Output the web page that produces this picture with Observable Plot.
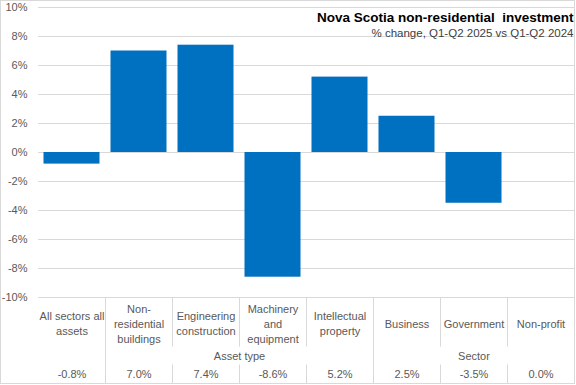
<!DOCTYPE html>
<html><head><meta charset="utf-8">
<script src="https://cdn.jsdelivr.net/npm/d3@7"></script>
<script src="https://cdn.jsdelivr.net/npm/@observablehq/plot@0.6"></script>
<style>body{margin:0;background:#fff} svg{display:block}</style>
</head><body><div id="chart"></div>
<script>
const categories = ["All sectors all\nassets","Non-\nresidential\nbuildings","Engineering\nconstruction","Machinery\nand\nequipment","Intellectual\nproperty","Business","Government","Non-profit"];
const values = [-0.8, 7.0, 7.4, -8.6, 5.2, 2.5, -3.5, 0.0];
const groupNames = ["Asset type","Sector"];
const groupStart = [1,5];
const groupEnd = [5,8];
const yTicks = [-10,-8,-6,-4,-2,0,2,4,6,8,10];
const title = "Nova Scotia non-residential\u00a0 investment";
const subtitle = "% change, Q1-Q2 2025 vs Q1-Q2 2024";

const data = categories.map((c,i)=>({cat:c, i, value: values[i], label: values[i].toFixed(1)+"%"}));
const groups = groupNames.map((g,k)=>({name:g, mid:(groupStart[k]+groupEnd[k])/2}));
const W=576, H=385;
const txt = "#595959";
const plot = Plot.plot({
  width: W, height: H, marginLeft: 38, marginRight: 2, marginTop: 7, marginBottom: 88,
  style: {fontFamily: "'Liberation Sans', Arial, sans-serif", fontSize: "11px", color: txt, background: "#fff"},
  x: {type: "linear", domain: [0, categories.length], axis: null},
  y: {domain: [-10, 10], axis: null},
  marks: [
    Plot.ruleY(yTicks, {stroke: "#d9d9d9", strokeWidth: 1}),
    Plot.rectY(data, {x1: d => d.i, x2: d => d.i + 1, y1: 0, y2: "value", fill: "#0070C0", insetLeft: 5.5, insetRight: 5.5}),
    Plot.axisY(yTicks, {tickSize: 0, tickPadding: 11, tickFormat: d => d + "%", fill: txt, fontSize: 11, label: null}),
    Plot.text(data, {x: d => d.i + 0.5, y: -10, text: "cat", dy: 25.5, lineAnchor: "middle", lineHeight: 1.36, fill: txt, fontSize: 11}),
    Plot.text(groups, {x: "mid", y: -10, text: "name", dy: 58.5, fill: txt, fontSize: 11}),
    Plot.text(data, {x: d => d.i + 0.5, y: -10, text: "label", dy: 76.5, fill: txt, fontSize: 11}),
    Plot.text([title], {frameAnchor: "top-right", text: d => d, fontWeight: "bold", fontSize: 13.5, fill: "#000", dy: 5, dx: -1}),
    Plot.text([subtitle], {frameAnchor: "top-right", text: d => d, fontSize: 11.5, fill: "#404040", dy: 21, dx: -1})
  ]
});
document.getElementById("chart").appendChild(plot);

// table separators and chart border, positioned with the plot's scales
const sx = plot.scale("x"), sy = plot.scale("y");
const svg = d3.select(plot);
const yTop = sy.apply(-10) + 0.5, yBot = H - 2;
const gapTop = yTop + 49, gapBot = yTop + 67;
const g = svg.append("g").attr("stroke", "#d9d9d9").attr("stroke-width", 1);
for (let b = 1; b < categories.length; b++) {
  const x = Math.round(sx.apply(b)) + 0.5;
  const full = groupStart.includes(b) || groupEnd.includes(b);
  if (full) {
    g.append("line").attr("x1", x).attr("x2", x).attr("y1", yTop).attr("y2", yBot);
  } else {
    g.append("line").attr("x1", x).attr("x2", x).attr("y1", yTop).attr("y2", gapTop);
    g.append("line").attr("x1", x).attr("x2", x).attr("y1", gapBot).attr("y2", yBot);
  }
}
svg.append("rect").attr("x", 0.5).attr("y", 0.5).attr("width", W - 2).attr("height", H - 2)
  .attr("fill", "none").attr("stroke", "#d9d9d9");
</script>
</body></html>
